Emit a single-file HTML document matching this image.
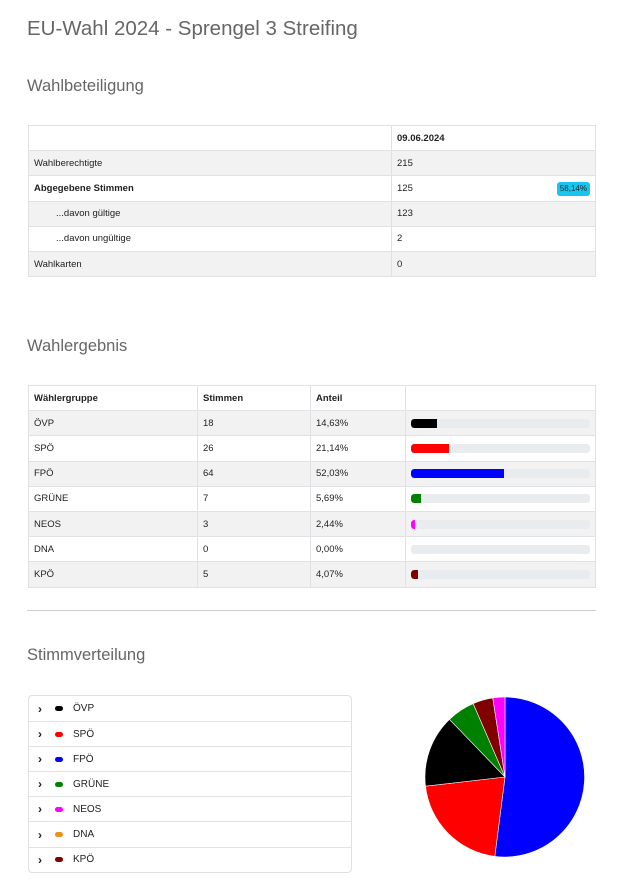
<!DOCTYPE html>
<html><head><meta charset="utf-8"><style>
*{box-sizing:border-box}
body{margin:0;width:643px;height:889px;background:#fff;font-family:"Liberation Sans",sans-serif;color:#222;position:relative;overflow:hidden}
.h{position:absolute;left:27px;color:#666;font-weight:normal;margin:0}
table{position:absolute;border-collapse:collapse;font-size:9.5px;table-layout:fixed}
td{border:1px solid #dfe1e5;padding:0 5px;height:25.2px;white-space:nowrap;vertical-align:middle;position:relative}
tr.g td{background:#f2f2f2}
.bar{height:9px;background:#e9ecef;border-radius:3px;position:relative;overflow:hidden}
.bar i{position:absolute;left:0;top:0;bottom:0;border-radius:3px 0 0 3px}
.badge{position:absolute;right:5px;top:6px;background:#17c6f0;border-radius:3px;font-size:8px;padding:2px 3px;line-height:10px}
.leg{position:absolute;left:28px;top:695px;width:324px;border:1px solid #e0e0e0;border-radius:4px;font-size:10px}
.leg div{height:25.1px;border-top:1px solid #e2e2e2;display:flex;align-items:center;padding-left:9px}
.leg div:first-child{border-top:none}
.leg s{text-decoration:none;font-weight:bold;font-size:12px}
.leg b{display:inline-block;width:8px;height:5px;border-radius:3px;margin:0 10px 0 13px}
</style></head><body>
<h1 class="h" style="top:17px;font-size:20.5px">EU-Wahl 2024 - Sprengel 3 Streifing</h1>
<h2 class="h" style="top:77px;font-size:16.5px">Wahlbeteiligung</h2>
<table style="left:28px;top:125px;width:568px">
<col style="width:363px"><col>
<tr><td></td><td><b>09.06.2024</b></td></tr>
<tr class="g"><td>Wahlberechtigte</td><td>215</td></tr>
<tr><td><b>Abgegebene Stimmen</b></td><td>125<span class="badge">58,14%</span></td></tr>
<tr class="g"><td style="padding-left:27px">...davon gültige</td><td>123</td></tr>
<tr><td style="padding-left:27px">...davon ungültige</td><td>2</td></tr>
<tr class="g"><td>Wahlkarten</td><td>0</td></tr>
</table>
<h2 class="h" style="top:337px;font-size:16.5px">Wahlergebnis</h2>
<table style="left:28px;top:385px;width:568px">
<col style="width:169px"><col style="width:113px"><col style="width:95px"><col>
<tr><td><b>Wählergruppe</b></td><td><b>Stimmen</b></td><td><b>Anteil</b></td><td></td></tr>
<tr class="g"><td>ÖVP</td><td>18</td><td>14,63%</td><td><div class="bar"><i style="width:14.63%;background:#000"></i></div></td></tr>
<tr><td>SPÖ</td><td>26</td><td>21,14%</td><td><div class="bar"><i style="width:21.14%;background:#f00"></i></div></td></tr>
<tr class="g"><td>FPÖ</td><td>64</td><td>52,03%</td><td><div class="bar"><i style="width:52.03%;background:#00f"></i></div></td></tr>
<tr><td>GRÜNE</td><td>7</td><td>5,69%</td><td><div class="bar"><i style="width:5.69%;background:#008000"></i></div></td></tr>
<tr class="g"><td>NEOS</td><td>3</td><td>2,44%</td><td><div class="bar"><i style="width:2.44%;background:#f0f"></i></div></td></tr>
<tr><td>DNA</td><td>0</td><td>0,00%</td><td><div class="bar"></div></td></tr>
<tr class="g"><td>KPÖ</td><td>5</td><td>4,07%</td><td><div class="bar"><i style="width:4.07%;background:#800000"></i></div></td></tr>
</table>
<div style="position:absolute;left:27px;top:610px;width:569px;border-top:1px solid #ccc"></div>
<h2 class="h" style="top:646px;font-size:16.5px">Stimmverteilung</h2>
<div class="leg">
<div><s>›</s><b style="background:#000"></b>ÖVP</div>
<div><s>›</s><b style="background:#f00"></b>SPÖ</div>
<div><s>›</s><b style="background:#00f"></b>FPÖ</div>
<div><s>›</s><b style="background:#008000"></b>GRÜNE</div>
<div><s>›</s><b style="background:#f0f"></b>NEOS</div>
<div><s>›</s><b style="background:#f0901c"></b>DNA</div>
<div><s>›</s><b style="background:#800000"></b>KPÖ</div>
</div>
<svg style="position:absolute;left:0;top:0" width="643" height="889">
<g stroke="#fff" stroke-width="0.6">
<path d="M505,777 L505,697 A80,80 0 1 1 494.8,856.4Z" fill="#00f"/>
<path d="M505,777 L494.8,856.4 A80,80 0 0 1 425.5,786.2Z" fill="#f00"/>
<path d="M505,777 L425.5,786.2 A80,80 0 0 1 449.5,719.4Z" fill="#000"/>
<path d="M505,777 L449.5,719.4 A80,80 0 0 1 473.2,703.6Z" fill="#008000"/>
<path d="M505,777 L473.2,703.6 A80,80 0 0 1 492.8,698Z" fill="#800000"/>
<path d="M505,777 L492.8,698 A80,80 0 0 1 505,697Z" fill="#f0f"/>
</g></svg>
</body></html>
